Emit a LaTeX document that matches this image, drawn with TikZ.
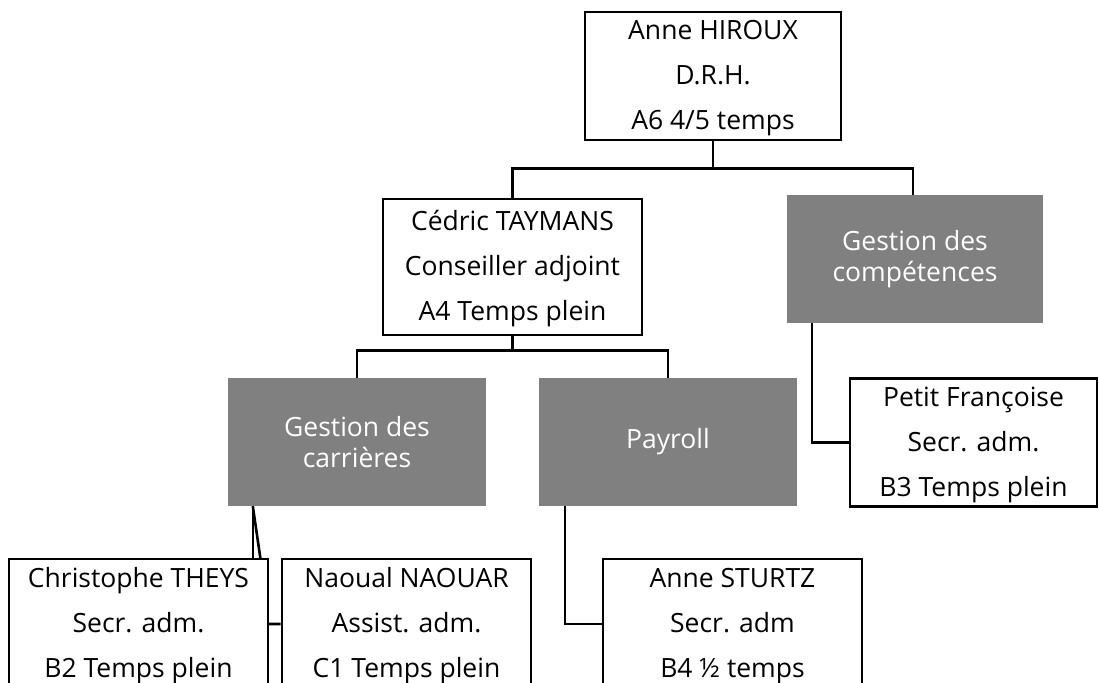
\documentclass[tikz,border=0pt]{standalone}
\usepackage{fontspec}
\setmainfont{Open Sans}
\usetikzlibrary{backgrounds,calc}
\newcommand{\firststrut}{\rule{0pt}{24.2pt}}
\begin{document}
\begin{tikzpicture}[x=1pt,y=-1pt,
  person/.style={draw=black, line width=2.6pt, fill=white, minimum width=#1,
    minimum height=128pt, inner sep=0pt, align=center,
    font=\fontsize{26.5}{45}\selectfont},
  unit/.style={fill=unitgrey, text=white, minimum width=#1, minimum height=128pt,
    inner sep=0pt, align=center, font=\fontsize{26.5}{31}\selectfont},
  link/.style={draw=black, line width=2.6pt}]
\definecolor{unitgrey}{HTML}{808080}
\useasboundingbox (0,0) rectangle (1099,682);
\node[person=256pt] (hir) at (713,76) {\firststrut Anne HIROUX\\D.R.H.\\A6 4/5 temps};
\node[person=259pt, minimum height=136pt] (ced) at (512.5,267) {\firststrut Cédric TAYMANS\\Conseiller adjoint\\A4 Temps plein};
\node[unit=256pt] (comp) at (915,259) {Gestion des\\compétences};
\node[unit=258pt] (carr) at (357,442) {Gestion des\\carrières};
\node[unit=258pt] (pay) at (668,442) {Payroll};
\node[person=247pt] (pet) at (973.5,442.5) {\firststrut Petit Françoise\\Secr. adm.\\B3 Temps plein};
\node[person=259pt, minimum height=130pt] (chr) at (138.5,624) {\firststrut Christophe THEYS\\Secr. adm.\\B2 Temps plein};
\node[person=249pt, minimum height=130pt] (nao) at (406.5,624) {\firststrut Naoual NAOUAR\\Assist. adm.\\C1 Temps plein};
\node[person=259pt, minimum height=130pt] (stu) at (732.5,624) {\firststrut Anne STURTZ\\Secr. adm\\B4 ½ temps};
\begin{scope}[on background layer]
  \coordinate (hj) at ($(hir.south)+(0,27)$);
  \draw[link] (hir.south) -- (hj);
  \draw[link] (hj) -| (ced.north);
  \draw[link] (hj) -| ([xshift=-2pt]comp.north);
  \coordinate (cj) at ($(ced.south)+(0,14)$);
  \draw[link] (ced.south) -- (cj);
  \draw[link] (cj) -| (carr.north);
  \draw[link] (cj) -| (pay.north);
  \draw[link] ([xshift=25pt]comp.south west) |- (pet.west);
  \draw[link] ([xshift=26pt]pay.south west) |- (stu.west);
  \coordinate (cs) at ([xshift=25pt]carr.south west);
  \draw[link] (cs) -- (cs |- chr.north);
  \draw[link] (cs) -- ($(chr.north east)+(-9pt,0)$) |- (nao.west);
\end{scope}
\end{tikzpicture}
\end{document}
